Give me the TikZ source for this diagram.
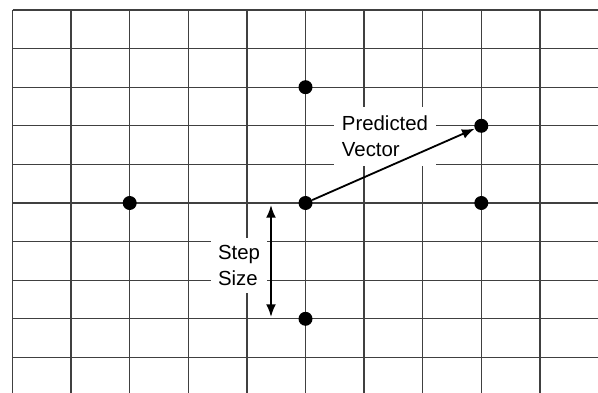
\documentclass[tikz,border=0pt]{standalone}
\usepackage{fontspec}
\setmainfont{Liberation Sans}
\usetikzlibrary{arrows.meta}
\begin{document}
\begin{tikzpicture}[x=0.025cm, y=-0.025cm]
        \tikzset{
            grid_line/.style={line width=0.9pt, black!75},
            dot/.style={circle, fill=black, inner sep=0pt, minimum size=0.35cm},
            label_box/.style={fill=white, inner sep=0pt, align=left, font=\fontsize{14.5}{18.4}\selectfont},
            vec/.style={line width=1.3pt, -{Latex[length=9pt, width=7pt]}},
            size_arrow/.style={line width=1.3pt, {Latex[length=9pt, width=7pt]}-{Latex[length=9pt, width=7pt]}}
        }
        \useasboundingbox (0,0) rectangle (598,393);

        \foreach \i in {0,...,9}
            \draw[grid_line] (12.5+58.6*\i,10) -- (12.5+58.6*\i,393);
        \foreach \j in {0,...,9}
            \draw[grid_line] (12.5,10+38.6*\j) -- (598,10+38.6*\j);

        \node[label_box, minimum width=2.55cm, minimum height=1.475cm] (vec_label) at (385,136.5) {Predicted\\Vector};
        \node[label_box, minimum width=1.4cm, minimum height=1.375cm] (step_label) at (239,265.5) {Step\\Size};

        \node[dot] (center) at (305.5,203) {};
        \node[dot] (up) at (305.5,87.2) {};
        \node[dot] (down) at (305.5,318.8) {};
        \node[dot] (left) at (129.7,203) {};
        \node[dot] (right) at (481.3,203) {};
        \node[dot] (predicted) at (481.3,125.8) {};

        \coordinate (step_top) at (271,205);
        \coordinate (step_bottom) at (271,317);

        \draw[vec] (center) -- (predicted);
        \draw[size_arrow] (step_top) -- (step_bottom);
    \end{tikzpicture}
\end{document}
